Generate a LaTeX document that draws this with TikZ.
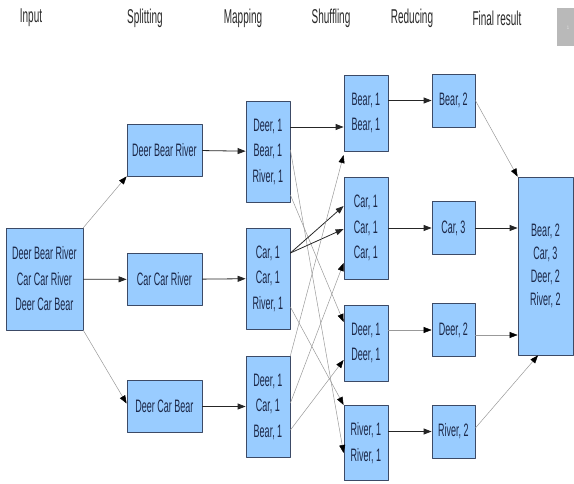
\documentclass[tikz,border=0pt]{standalone}
\usepackage{fontspec}
\setmainfont{Liberation Sans}[FakeStretch=0.5]
\usepackage{tikz}
\usetikzlibrary{arrows.meta}
\definecolor{boxfill}{HTML}{99CCFF}
\definecolor{boxline}{HTML}{3C4A66}
\definecolor{boxtext}{HTML}{1C2848}
\definecolor{headtext}{HTML}{2A2A2A}

\begin{document}
\begin{tikzpicture}[x=1pt, y=-1pt, line cap=round, line join=round,
  box/.style={draw=boxline, fill=boxfill, text=boxtext, inner sep=0pt, align=center,
    font=\fontsize{18}{25.5}\selectfont, line width=0.8pt},
  head/.style={text=headtext, font=\fontsize{20}{22}\selectfont},
  link/.style={-{Triangle[length=8pt,width=6pt]}, line width=0.8pt, black!85},
  faint link/.style={-{Triangle[length=8pt,width=6pt,color=black]}, line width=0.5pt, gray!80}]
\useasboundingbox (0,0) rectangle (574,483);
\fill[gray!55] (557,8) rectangle (574,46);
\node[text=white, font=\tiny] (tab) at (568,28) {1};

\node[head] (hinput) at (31,18) {Input};
\node[head] (hsplit) at (145,18) {Splitting};
\node[head] (hmap) at (243,18) {Mapping};
\node[head] (hshuf) at (331,18) {Shuffling};
\node[head] (hred) at (412,18) {Reducing};
\node[head] (hfinal) at (497,18) {Final result};

\node[box, minimum width=77pt, minimum height=102pt] (input) at (44.5,279) {Deer Bear River\\Car Car River\\Deer Car Bear};

\node[box, minimum width=75pt, minimum height=52pt] (split1) at (164.5,150) {Deer Bear River};
\node[box, minimum width=75pt, minimum height=52pt] (split2) at (164.5,279.5) {Car Car River};
\node[box, minimum width=75pt, minimum height=52pt] (split3) at (164.5,406.5) {Deer Car Bear};

\node[box, minimum width=44pt, minimum height=101pt] (map1) at (268,151.5) {Deer, 1\\Bear, 1\\River, 1};
\node[box, minimum width=44pt, minimum height=101pt] (map2) at (268,278.5) {Car, 1\\Car, 1\\River, 1};
\node[box, minimum width=44pt, minimum height=101pt] (map3) at (268,406.5) {Deer, 1\\Car, 1\\Bear, 1};

\node[box, minimum width=44pt, minimum height=76pt] (shuf1) at (366,113) {Bear, 1\\Bear, 1};
\node[box, minimum width=44pt, minimum height=102pt] (shuf2) at (366,228) {Car, 1\\Car, 1\\Car, 1};
\node[box, minimum width=44pt, minimum height=76pt] (shuf3) at (366,343) {Deer, 1\\Deer, 1};
\node[box, minimum width=44pt, minimum height=75pt] (shuf4) at (366,443) {River, 1\\River, 1};

\node[box, minimum width=43pt, minimum height=53pt] (red1) at (453.5,100.5) {Bear, 2};
\node[box, minimum width=43pt, minimum height=53pt] (red2) at (453.5,228) {Car, 3};
\node[box, minimum width=43pt, minimum height=53pt] (red3) at (453.5,330) {Deer, 2};
\node[box, minimum width=43pt, minimum height=53pt] (red4) at (453.5,431.5) {River, 2};

\node[box, minimum width=55pt, minimum height=178pt, font=\fontsize{18}{23}\selectfont] (final) at (545.5,266) {Bear, 2\\Car, 3\\Deer, 2\\River, 2};

\draw[faint link] (input.north east) -- (split1.south west);
\draw[link] (input) -- (split2);
\draw[faint link] (input.south east) -- ([yshift=3pt]split3.west);

\draw[link] (split1) -- (map1);
\draw[link] (split2) -- (map2);
\draw[link] (split3) -- (map3);

\draw[link] ([yshift=24.5pt]map1.east) -- ([yshift=-14pt]shuf1.west);
\draw[faint link] ([yshift=-43.5pt]map1.east) -- ([yshift=21pt]shuf3.west);
\draw[faint link] ([yshift=1.5pt]map1.east) -- ([yshift=-10pt]shuf4.west);
\draw[link] ([yshift=25.5pt]map2.east) -- ([yshift=22pt]shuf2.west);
\draw[link] ([yshift=25.5pt]map2.east) -- ([yshift=-1pt]shuf2.west);
\draw[faint link] ([yshift=-28.5pt]map2.east) -- ([yshift=38pt]shuf4.west);
\draw[faint link] (map3.north east) -- ([yshift=-42pt]shuf1.west);
\draw[faint link] ([yshift=3.5pt]map3.east) -- ([yshift=-35pt]shuf2.west);
\draw[faint link] ([yshift=-23.5pt]map3.east) -- ([yshift=-17pt]shuf3.west);

\draw[link] (shuf1.east |- red1.west) -- (red1.west);
\draw[link] (shuf2.east |- red2.west) -- (red2.west);
\draw[faint link] (shuf3.east |- red3.west) -- (red3.west);
\draw[link] (shuf4.east |- red4.west) -- (red4.west);

\draw[faint link] (red1.east) -- (final.north west);
\draw[link] (red2.east) -- ([yshift=38pt]final.west);
\draw[faint link] ([yshift=-5pt]red3.east) -- ([yshift=-69pt]final.west);
\draw[faint link] ([yshift=3.5pt]red4.east) -- ([xshift=-7.5pt]final.south);
\end{tikzpicture}
\end{document}
